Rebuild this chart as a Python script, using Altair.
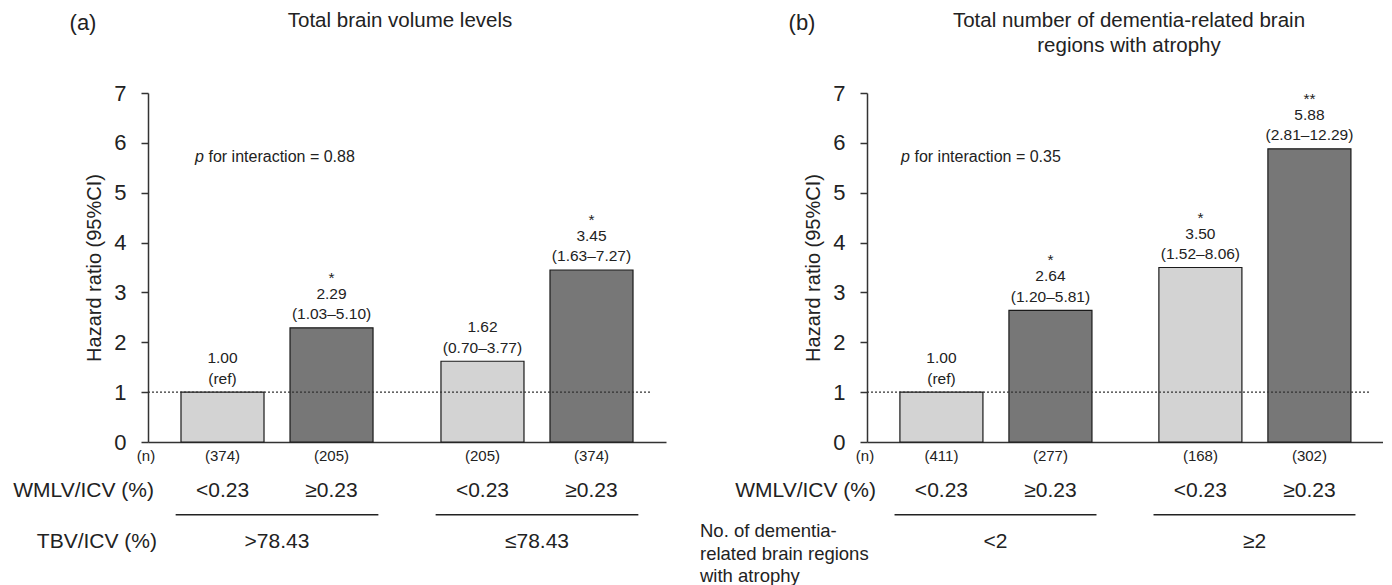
import altair as alt
import pandas as pd

FONT = "Liberation Sans"

# ---------------- data ----------------
wmlv_levels = ["<0.23", "≥0.23"]
bar_colors = ["#d3d3d3", "#777777"]
y_ticks = [0, 1, 2, 3, 4, 5, 6, 7]

# panel (a)
a_groups = [">78.43", ">78.43", "≤78.43", "≤78.43"]
a_wmlv = ["<0.23", "≥0.23", "<0.23", "≥0.23"]
a_hr = [1.00, 2.29, 1.62, 3.45]
a_hr_text = ["1.00", "2.29", "1.62", "3.45"]
a_ci = ["(ref)", "(1.03–5.10)", "(0.70–3.77)", "(1.63–7.27)"]
a_stars = ["", "*", "", "*"]
a_n = ["(374)", "(205)", "(205)", "(374)"]
a_title = ["Total brain volume levels"]
a_letter = "(a)"
a_p = "for interaction = 0.88"
a_row2 = ["TBV/ICV (%)"]

# panel (b)
b_groups = ["<2", "<2", "≥2", "≥2"]
b_wmlv = ["<0.23", "≥0.23", "<0.23", "≥0.23"]
b_hr = [1.00, 2.64, 3.50, 5.88]
b_hr_text = ["1.00", "2.64", "3.50", "5.88"]
b_ci = ["(ref)", "(1.20–5.81)", "(1.52–8.06)", "(2.81–12.29)"]
b_stars = ["", "*", "*", "**"]
b_n = ["(411)", "(277)", "(168)", "(302)"]
b_title = ["Total number of dementia-related brain", "regions with atrophy"]
b_letter = "(b)"
b_p = "for interaction = 0.35"
b_row2 = ["No. of dementia-", "related brain regions", "with atrophy"]

ref_level = [1.0]
p_level = [5.72]

H = 349


def panel(groups, wmlv, hr, hr_text, ci, stars, n, title, letter, ptxt, row2,
          width, title_x, wmlv_lab_x, row2_left, p_x):
    df = pd.DataFrame({"group": groups, "wmlv": wmlv, "hr": hr, "hrt": hr_text,
                       "ci": ci, "star": stars, "n": n})
    gdom = list(dict.fromkeys(groups))
    gdf = pd.DataFrame({"group": gdom})
    xscale = alt.Scale(domain=gdom, paddingInner=0.1615, paddingOuter=0.077)
    xo = alt.XOffset("wmlv:N", scale=alt.Scale(domain=wmlv_levels,
                                               paddingInner=0.2385, paddingOuter=0.119))
    yscale = alt.Scale(domain=[0, 7], nice=False, zero=True)
    x_axis = alt.Axis(labels=False, ticks=False, title=None, domain=True)
    y_axis = alt.Axis(values=y_ticks, title="Hazard ratio (95%CI)",
                      tickSize=7, labelPadding=15, labelFontSize=22,
                      titleFontSize=20, titleFontWeight="normal", titlePadding=9)
    xg = alt.X("group:N", scale=xscale, axis=x_axis)

    def yq(field):
        return alt.Y(f"{field}:Q", scale=yscale, axis=y_axis)

    base = alt.Chart(df)

    bars = base.mark_bar(stroke="#1a1a1a", strokeWidth=1.2).encode(
        x=xg, xOffset=xo, y=yq("hr"),
        color=alt.Color("wmlv:N", scale=alt.Scale(domain=wmlv_levels, range=bar_colors),
                        legend=None),
    )

    ref = alt.Chart(pd.DataFrame({"ref": ref_level})).mark_rule(
        color="#333", strokeWidth=1.2, strokeDash=[2, 2]
    ).encode(y=yq("ref"), x=alt.value(0), x2=alt.value(width - 14))

    def lab(field, dy):
        return base.mark_text(fontSize=15.5, baseline="middle", dy=dy).encode(
            x=xg, xOffset=xo, y=yq("hr"), text=f"{field}:N")

    ci_t = lab("ci", -13.5)
    hr_t = lab("hrt", -34)
    st_t = lab("star", -50)

    n_t = base.mark_text(fontSize=15, baseline="middle").encode(
        x=xg, xOffset=xo, y=alt.value(H + 14), text="n:N")
    w_t = base.mark_text(fontSize=21, baseline="middle").encode(
        x=xg, xOffset=xo, y=alt.value(H + 49), text="wmlv:N")
    uline = alt.Chart(gdf).mark_bar(color="#222", width=alt.RelativeBandSize(0.93)).encode(
        x=xg, y=alt.value(H + 72), y2=alt.value(H + 73.5))
    g_t = alt.Chart(gdf).mark_text(fontSize=21, baseline="middle").encode(
        x=xg, y=alt.value(H + 100), text="group:N")

    side = pd.DataFrame({"k": [0]})
    n_lab = alt.Chart(side).mark_text(fontSize=15, baseline="middle", align="center").encode(
        x=alt.value(-2), y=alt.value(H + 14), text=alt.value("(n)"))
    w_lab = alt.Chart(side).mark_text(fontSize=21, baseline="middle", align="right").encode(
        x=alt.value(wmlv_lab_x), y=alt.value(H + 49), text=alt.value("WMLV/ICV (%)"))
    if len(row2) == 1:
        r2 = alt.Chart(side).mark_text(fontSize=21, baseline="middle", align="right").encode(
            x=alt.value(wmlv_lab_x + 3), y=alt.value(H + 100), text=alt.value(row2[0]))
    else:
        r2 = alt.Chart(side).mark_text(fontSize=18.5, baseline="top", align="left",
                                       lineHeight=22.5).encode(
            x=alt.value(row2_left), y=alt.value(H + 80), text=alt.value(row2))

    ttl = alt.Chart(side).mark_text(fontSize=20.5, baseline="top", align="center",
                                    lineHeight=25).encode(
        x=alt.value(title_x), y=alt.value(-82), text=alt.value(title))
    let = alt.Chart(side).mark_text(fontSize=22, baseline="middle", align="center").encode(
        x=alt.value(-65), y=alt.value(-70), text=alt.value(letter))

    pdf = pd.DataFrame({"py": p_level, "t": [ptxt]})
    p_i = alt.Chart(pdf).mark_text(fontSize=16, baseline="middle", align="left",
                                   fontStyle="italic").encode(
        x=alt.value(p_x), y=yq("py"), text=alt.value("p"))
    p_r = alt.Chart(pdf).mark_text(fontSize=16, baseline="middle", align="left").encode(
        x=alt.value(p_x + 13.5), y=yq("py"), text="t:N")

    return alt.layer(bars, ref, ci_t, hr_t, st_t, n_t, w_t, uline, g_t,
                     n_lab, w_lab, r2, ttl, let, p_i, p_r).properties(width=width, height=H)


pa = panel(a_groups, a_wmlv, a_hr, a_hr_text, a_ci, a_stars, a_n, a_title, a_letter,
           a_p, a_row2, width=518, title_x=252, wmlv_lab_x=6, row2_left=0, p_x=47)
pb = panel(b_groups, b_wmlv, b_hr, b_hr_text, b_ci, b_stars, b_n, b_title, b_letter,
           b_p, b_row2, width=516, title_x=262, wmlv_lab_x=9, row2_left=-167, p_x=34)

chart = alt.hconcat(pa, pb, spacing=34).configure_view(stroke=None).configure_axis(
    labelFont=FONT, titleFont=FONT, domainColor="#333", tickColor="#333",
    labelColor="#222", titleColor="#222", domainWidth=1.5, tickWidth=1.5, grid=False
).configure_text(font=FONT, color="#222").properties(
    padding={"left": 5, "top": 3, "right": 0, "bottom": 0}, background="white")

chart.save("out.html", embed_options={"renderer": "svg", "actions": False})
